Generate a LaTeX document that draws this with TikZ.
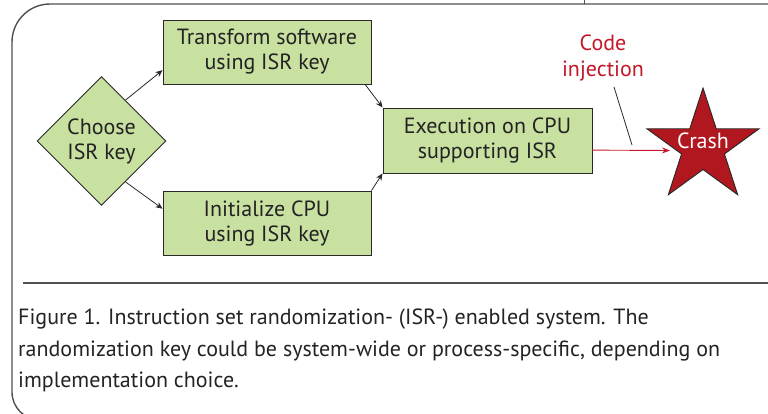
\documentclass[tikz,border=0pt]{standalone}
\usepackage{fontspec}
\setmainfont{PT Sans}
\usetikzlibrary{shapes.geometric,arrows.meta,calc}
\definecolor{boxgreen}{RGB}{200,224,160}
\definecolor{edgegray}{RGB}{40,40,40}
\definecolor{crashred}{RGB}{176,23,31}
\definecolor{injred}{RGB}{196,24,40}
\definecolor{framegray}{RGB}{80,80,80}
\definecolor{textgray}{RGB}{35,35,35}
\begin{document}
\begin{tikzpicture}[x=1pt,y=-1pt,
  stepbox/.style={draw=edgegray, fill=boxgreen, line width=0.9pt, minimum width=208pt, minimum height=64pt,
    align=center, inner sep=0pt, text=textgray, font=\fontsize{22}{25}\selectfont},
  choicebox/.style={diamond, aspect=1, draw=edgegray, fill=boxgreen, line width=0.9pt, minimum size=129pt,
    align=center, inner sep=0pt, text=textgray, font=\fontsize{22}{25}\selectfont},
  arr/.style={draw=edgegray, line width=0.8pt, -{Stealth[length=7pt,width=6pt]}},
  redarr/.style={draw=injred, line width=0.9pt, -{Stealth[length=8pt,width=6pt]}},
  captext/.style={anchor=base west, inner sep=0pt, text=textgray, font=\fontsize{22}{31}\selectfont},
  framestyle/.style={draw=framegray, line width=1.4pt}
]
\useasboundingbox (0,0) rectangle (768,414);
% frame
\draw[framestyle] (770,4) -- (50,4) arc[start angle=270, end angle=180, radius=38] -- (12,392)
  arc[start angle=180, end angle=90, radius=28] -- (770,420);
\draw[draw=framegray, line width=0.8pt] (584,0) -- (584,4);
\draw[draw=framegray, line width=1.4pt] (23,283) -- (770,283);

% nodes
\node[choicebox] (choose) at (101.5,141) {Choose\\ISR key};
\node[stepbox] (transform) at (267,52) {Transform software\\using ISR key};
\node[stepbox] (init) at (267,223) {Initialize CPU\\using ISR key};
\node[stepbox, minimum width=209pt, minimum height=65pt] (exec) at (487.5,140.5) {Execution on CPU\\supporting ISR};
\node[star, star points=5, star point ratio=2.618, minimum size=118pt, inner sep=0pt, fill=crashred, draw=edgegray, line width=0.9pt] (crash) at (703,147) {};
\node[text=white, font=\fontsize{22}{25}\selectfont] (crashtxt) at (703,141) {Crash};
\node[align=center, text=injred, font=\fontsize{22}{26}\selectfont] (inj) at (603,58) {Code\\injection};

% connectors
\draw[arr] ($(choose.north)!0.37!(choose.east)$) -- ($(transform.north west)!0.78!(transform.south west)$);
\draw[arr] ($(choose.east)!0.63!(choose.south)$) -- ($(init.north west)!0.28!(init.south west)$);
\draw[arr] ($(transform.south west)!0.97!(transform.south east)$) -- (exec.north west);
\draw[arr] (init.north east) -- (exec.south west);
\coordinate (hit) at (670,150.5);
\draw[redarr] ($(exec.north east)!0.646!(exec.south east)$ |- hit) -- (hit);
\coordinate (ptrtop) at (614,87);
\coordinate (ptrbot) at (632,145);
\draw[draw=edgegray, line width=0.8pt] (ptrtop) -- (ptrbot);

% caption
\node[captext] (cap1) at (18,324) {Figure 1. Instruction set randomization- (ISR-) enabled system. The};
\node[captext] (cap2) at (18,356) {randomization key could be system-wide or process-specific, depending on};
\node[captext] (cap3) at (18,387) {implementation choice.};
\end{tikzpicture}
\end{document}
